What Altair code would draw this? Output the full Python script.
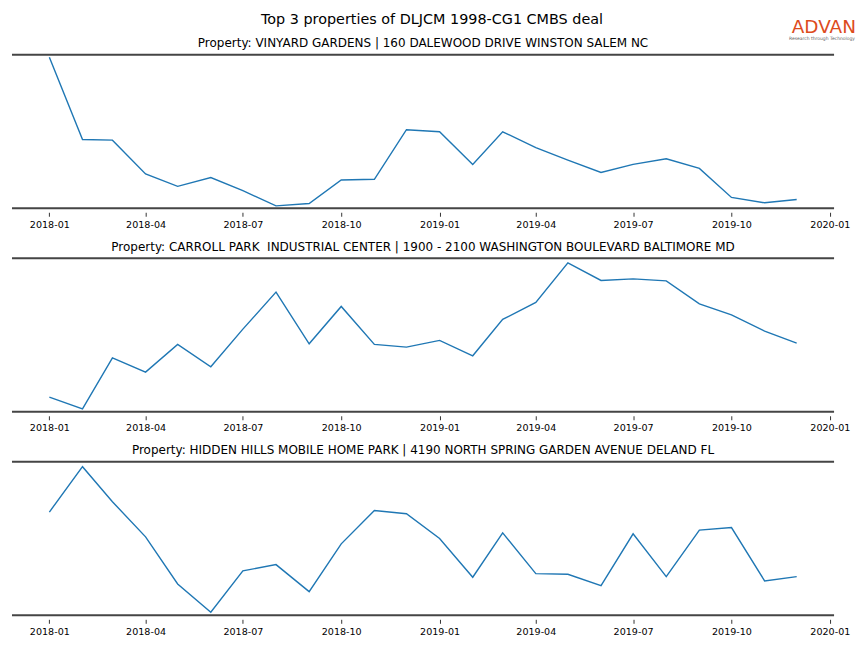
import altair as alt
import pandas as pd

months = [
    "2018-01-01", "2018-02-01", "2018-03-01", "2018-04-01", "2018-05-01", "2018-06-01",
    "2018-07-01", "2018-08-01", "2018-09-01", "2018-10-01", "2018-11-01", "2018-12-01",
    "2019-01-01", "2019-02-01", "2019-03-01", "2019-04-01", "2019-05-01", "2019-06-01",
    "2019-07-01", "2019-08-01", "2019-09-01", "2019-10-01", "2019-11-01", "2019-12-01",
]

main_title = "Top 3 properties of DLJCM 1998-CG1 CMBS deal"

panel_titles = [
    "Property: VINYARD GARDENS | 160 DALEWOOD DRIVE WINSTON SALEM NC",
    "Property: CARROLL PARK\u00a0 INDUSTRIAL CENTER | 1900 - 2100 WASHINGTON BOULEVARD BALTIMORE MD",
    "Property: HIDDEN HILLS MOBILE HOME PARK | 4190 NORTH SPRING GARDEN AVENUE DELAND FL",
]

# relative index values
vinyard = [149.4, 68.0, 67.4, 34.0, 21.7, 30.4, 17.4, 2.4, 4.7, 28.0, 28.7, 77.7,
           75.7, 43.4, 75.7, 60.0, 47.7, 35.4, 43.4, 49.0, 39.4, 10.7, 5.4, 8.7]
carroll = [14.7, 3.0, 54.0, 39.7, 67.4, 45.0, 82.7, 119.7, 68.0, 105.4, 67.4, 64.7,
           71.4, 56.0, 92.4, 109.4, 149.0, 131.4, 133.0, 131.0, 108.0, 97.0, 80.7, 68.7]
hidden = [103.0, 148.3, 113.3, 78.3, 31.3, 3.0, 44.3, 50.6, 23.6, 71.3, 104.6, 101.3,
          76.6, 38.0, 82.3, 41.6, 41.0, 29.6, 81.3, 38.6, 85.0, 87.6, 34.3, 38.6]

series = [vinyard, carroll, hidden]
y_max = [152.0, 153.7, 153.3]

tick_months = [(2018, 1), (2018, 4), (2018, 7), (2018, 10),
               (2019, 1), (2019, 4), (2019, 7), (2019, 10), (2020, 1)]

W = 824
H = 154
FONT = "DejaVu Sans"

x_domain = [
    alt.DateTime(year=2017, month=11, date=27, hours=1, minutes=12, utc=True),
    alt.DateTime(year=2020, month=1, date=4, hours=22, minutes=48, utc=True),
]
x_ticks = [alt.DateTime(year=y, month=m, date=1, utc=True) for y, m in tick_months]


def text_layer(txt, x, y, size, color="#000000", align="center"):
    return alt.Chart(pd.DataFrame({"t": [txt]})).mark_text(
        font=FONT, fontSize=size, color=color, align=align, baseline="middle"
    ).encode(text="t:N", x=alt.value(x), y=alt.value(y))


def panel(title, values, ymax, with_header=False):
    df = pd.DataFrame({"month": months, "value": values})
    line = alt.Chart(df).mark_line(color="#1f77b4", strokeWidth=1.4).encode(
        x=alt.X(
            "month:T",
            scale=alt.Scale(type="utc", domain=x_domain),
            axis=alt.Axis(
                values=x_ticks, format="%Y-%m", title=None, grid=False, domain=False,
                offset=4, tickSize=4, tickWidth=0.8, tickColor="#000000",
                labelFont=FONT, labelFontSize=9.6, labelColor="#000000",
                labelPadding=3, labelOverlap=False, labelFlush=False,
            ),
        ),
        y=alt.Y("value:Q", scale=alt.Scale(domain=[0, ymax], nice=False, zero=False), axis=None),
    )
    one = pd.DataFrame({"k": [0]})
    top = alt.Chart(one).mark_rule(color="#454545", strokeWidth=2).encode(y=alt.value(0))
    bottom = alt.Chart(one).mark_rule(color="#454545", strokeWidth=2).encode(y=alt.value(H))
    layers = [line, top, bottom, text_layer(title, W / 2, -11.5, 12)]
    if with_header:
        # invisible guide fixing the top edge of the figure
        guide = alt.Chart(one).mark_rule(opacity=0, strokeWidth=1).encode(y=alt.value(-45.5))
        layers += [
            guide,
            text_layer(main_title, 421, -34.5, 14.4),
            text_layer("ADVAN", 846, -27.5, 18.5, color="#DD4B1C", align="right"),
            text_layer("Research through Technology", 845, -16, 4.5, color="#666666", align="right"),
        ]
    return alt.layer(*layers).properties(width=W, height=H)


charts = [panel(panel_titles[i], series[i], y_max[i], with_header=(i == 0)) for i in range(3)]

chart = alt.vconcat(*charts, spacing=50, bounds="flush").properties(
    padding={"left": 3, "top": 0, "right": 0, "bottom": 0}
).configure_view(stroke=None)

chart.save("out.html", embed_options={"renderer": "svg", "actions": False})
